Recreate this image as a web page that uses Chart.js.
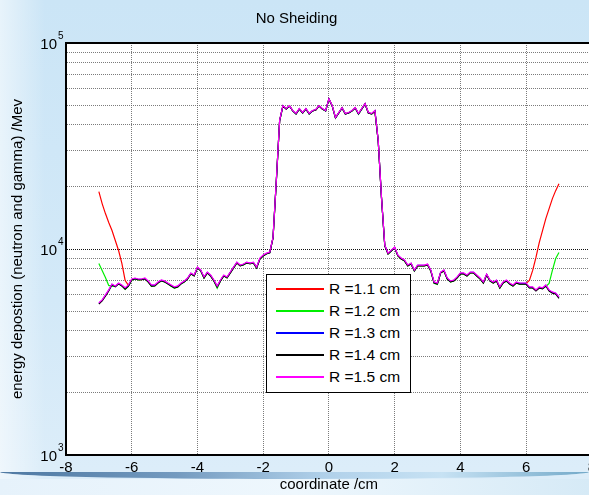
<!DOCTYPE html>
<html>
<head>
<meta charset="utf-8">
<script src="https://cdn.jsdelivr.net/npm/chart.js@4.4.1/dist/chart.umd.min.js"></script>
<style>
  html, body { margin:0; padding:0; width:589px; height:495px; overflow:hidden; }
  body {
    position:relative;
    background:
      linear-gradient(to right, rgba(255,255,255,0.55) 0px, rgba(255,255,255,0) 45px),
      linear-gradient(to bottom, #cbe5f6 0px, #d3e9f8 300px, #dcedf9 470px);
    font-family: "Liberation Sans", Arial, Helvetica, sans-serif;
  }
  #swoosh {
    position:absolute; left:0; top:472px; width:589px; height:7px;
    background: linear-gradient(to right, rgba(40,90,140,0.8) 0%, rgba(60,110,160,0.65) 30%, rgba(110,165,210,0.4) 55%, rgba(150,200,230,0.3) 75%, rgba(70,140,180,0.7) 100%);
    border-radius: 0 0 50% 50% / 0 0 100% 100%;
  }
  #lower { position:absolute; left:0; top:479px; width:589px; height:16px; background: linear-gradient(to right, #e6f2fb, #eef7fd 50%, #d6eaf6); }
  #wrap { position:absolute; left:0; top:0; width:600px; height:495px; }
  #legend {
    position:absolute; left:266px; top:274px; width:145px; height:119px; box-sizing:border-box;
    border:1.5px solid #000; background:#fff; font-size:15.5px; color:#000;
  }
  .row { position:absolute; left:0; height:20px; line-height:20px; width:140px; }
  .row .ln { position:absolute; left:9px; top:9px; width:48px; height:2px; }
  .row .tx { position:absolute; left:62px; top:0; white-space:nowrap; }
</style>
</head>
<body>
<div id="swoosh"></div>
<div id="lower"></div>
<div id="wrap"><canvas id="c" width="600" height="495"></canvas></div>
<div id="legend"></div>
<script>
// ---- data ----
const xs = [-7.0,-6.9,-6.8,-6.7,-6.6,-6.5,-6.4,-6.3,-6.2,-6.1,
  -6.0,-5.9,-5.8,-5.7,-5.6,-5.5,-5.4,-5.3,-5.2,-5.1,
  -5.0,-4.9,-4.8,-4.7,-4.6,-4.5,-4.4,-4.3,-4.2,-4.1,
  -4.0,-3.9,-3.8,-3.7,-3.6,-3.5,-3.4,-3.3,-3.2,-3.1,
  -3.0,-2.9,-2.8,-2.7,-2.6,-2.5,-2.4,-2.3,-2.2,-2.1,
  -2.0,-1.9,-1.8,-1.7,-1.6,-1.5,-1.4,-1.3,-1.2,-1.1,
  -1.0,-0.9,-0.8,-0.7,-0.6,-0.5,-0.4,-0.3,-0.2,-0.1,
  0.0,0.1,0.2,0.3,0.4,0.5,0.6,0.7,0.8,0.9,
  1.0,1.1,1.2,1.3,1.4,1.5,1.6,1.7,1.8,1.9,
  2.0,2.1,2.2,2.3,2.4,2.5,2.6,2.7,2.8,2.9,
  3.0,3.1,3.2,3.3,3.4,3.5,3.6,3.7,3.8,3.9,
  4.0,4.1,4.2,4.3,4.4,4.5,4.6,4.7,4.8,4.9,
  5.0,5.1,5.2,5.3,5.4,5.5,5.6,5.7,5.8,5.9,
  6.0,6.1,6.2,6.3,6.4,6.5,6.6,6.7,6.8,6.9,
  7.0];

const r11 = [18990,16610,14860,13440,12290,11000,9830,8510,7035,6655,
  7100,7180,7100,7100,7180,6940,6640,6640,6860,7020,
  6940,6790,6640,6490,6560,6790,6940,7180,7590,7420,
  8120,7850,7260,7680,7420,7020,6560,7020,7420,7260,
  7680,8120,8580,8300,8400,8580,8490,8580,8120,8970,
  9280,9490,9600,11350,21420,41850,49500,47870,49500,46820,
  45280,47870,45780,47870,45280,46820,47340,49500,47870,46820,
  53520,49500,43300,45780,48400,45280,45780,46820,48400,45280,
  47870,50620,45780,45280,46200,33500,17740,10380,9490,9810,
  10150,9280,8970,8780,8300,8490,7850,8300,8300,8300,
  8400,7850,6860,6790,7680,7850,7180,6940,7020,7260,
  7590,7590,7420,7680,7680,7420,7180,6860,7510,7020,
  6860,7020,6490,6860,7020,6790,6640,6860,6790,6790,
  6805,7035,7870,9100,10750,12290,14050,15710,17560,19200,
  20760];

const r12 = [8510,7870,7280,6655,6580,6600,6780,6620,6370,6600,
  7060,7160,7080,7090,7160,6920,6590,6610,6840,7000,
  6920,6770,6600,6440,6540,6770,6920,7160,7570,7400,
  8090,7830,7230,7650,7390,6990,6440,6990,7400,7240,
  7650,8090,8550,8280,8370,8560,8470,8560,8090,8940,
  9250,9470,9580,11320,21380,41800,49450,47800,49450,46780,
  45220,47820,45720,47820,45220,46780,47300,49450,47820,46780,
  53450,49450,43250,45720,48350,45220,45720,46780,48350,45100,
  47820,50560,45720,45220,46780,33450,17700,10350,9460,9780,
  10120,9250,8940,8750,8270,8460,7820,8270,8270,8270,
  8370,7820,6820,6730,7650,7820,7150,6910,6990,7230,
  7560,7560,7390,7650,7650,7390,7150,6830,7480,6990,
  6830,6990,6460,6830,6990,6750,6610,6830,6750,6750,
  6750,6480,6480,6320,6460,6420,6580,6805,7870,8995,
  9620];

const r13 = [5445,5630,5955,6295,6730,6580,6805,6655,6440,6655,
  7115,7195,7115,7115,7195,6960,6655,6655,6880,7035,
  6960,6805,6655,6510,6580,6805,6960,7195,7610,7440,
  8140,7870,7280,7695,7440,7035,6580,7035,7440,7280,
  7695,8140,8600,8320,8415,8600,8510,8600,8140,8995,
  9300,9510,9620,11370,21460,41910,49540,47910,49540,46850,
  45310,47910,45810,47910,45310,46850,47370,49540,47910,46850,
  53560,49540,43330,45810,48440,45310,45810,46850,48440,45310,
  47910,50660,45810,45310,46850,33530,17760,10400,9510,9830,
  10170,9300,8995,8800,8320,8510,7870,8320,8320,8320,
  8415,7870,6880,6805,7695,7870,7195,6960,7035,7280,
  7610,7610,7440,7695,7695,7440,7195,6880,7525,7035,
  6880,7035,6510,6880,7035,6805,6655,6880,6805,6805,
  6805,6510,6510,6295,6510,6440,6655,6295,6155,6090,
  5820];

const r14 = [5400,5600,5900,6250,6700,6550,6780,6620,6380,6600,
  7080,7170,7090,7100,7170,6930,6600,6620,6850,7010,
  6930,6780,6620,6470,6550,6780,6930,7170,7580,7410,
  8100,7840,7240,7660,7400,7000,6540,7000,7410,7250,
  7660,8100,8560,8290,8380,8570,8480,8570,8100,8950,
  9260,9480,9590,11330,21400,41850,49480,47850,49480,46800,
  45250,47850,45750,47850,45250,46800,47320,49480,47850,46800,
  53500,49480,43280,45750,48380,45250,45750,46800,48380,45250,
  47850,50600,45750,45250,46800,33470,17720,10360,9470,9790,
  10130,9260,8950,8760,8280,8470,7830,8280,8280,8280,
  8380,7830,6840,6760,7660,7830,7160,6920,7000,7240,
  7570,7570,7400,7660,7660,7400,7160,6840,7490,7000,
  6840,7000,6470,6840,7000,6760,6620,6840,6760,6760,
  6760,6470,6470,6250,6470,6400,6620,6250,6110,6050,
  5760];

const r15 = [5480,5660,5990,6330,6760,6620,6840,6690,6480,6690,
  7150,7230,7150,7150,7230,7000,6690,6690,6920,7070,
  7000,6840,6690,6550,6620,6840,7000,7230,7650,7480,
  8180,7910,7320,7730,7480,7070,6620,7070,7480,7320,
  7730,8180,8640,8360,8450,8640,8550,8640,8180,9040,
  9340,9550,9660,11420,21550,42100,49700,48100,49700,47000,
  45500,48100,46000,48100,45500,47000,47550,49700,48100,47000,
  53700,49700,43500,46000,48600,45500,46000,47000,48600,45500,
  48100,50800,46000,45500,47000,33700,17850,10450,9550,9870,
  10210,9340,9040,8840,8360,8550,7910,8360,8360,8360,
  8450,7910,6920,6840,7730,7910,7230,7000,7070,7320,
  7650,7650,7480,7730,7730,7480,7230,6920,7560,7070,
  6920,7070,6550,6920,7070,6840,6690,6920,6840,6840,
  6840,6550,6550,6330,6550,6480,6690,6330,6190,6120,
  5850];

const seriesNames = ['R =1.1 cm','R =1.2 cm','R =1.3 cm','R =1.4 cm','R =1.5 cm'];
const seriesColors = ['#ff0000','#00ee00','#0000ff','#000000','#ff00ff'];
const seriesValues = [r11, r12, r13, r14, r15];

const yTickValues = [1000,2000,3000,4000,5000,6000,7000,8000,9000,
  10000,20000,30000,40000,50000,60000,70000,80000,90000,100000];
const yDecades = [1000, 10000, 100000];
const yExponents = ['3', '4', '5'];

const titleText = 'No Sheiding';
const xTitle = 'coordinate /cm';
const yTitle = 'energy depostion (neutron and gamma) /Mev';

// ---- chart ----
const FONT = '"Liberation Sans", Arial, Helvetica, sans-serif';
Chart.defaults.font.family = FONT;
Chart.defaults.color = '#000';

const whiteArea = {
  id:'whiteArea',
  beforeDraw(chart){
    const {ctx, chartArea:a} = chart;
    ctx.save(); ctx.fillStyle='#fff';
    ctx.fillRect(a.left, a.top, a.right-a.left, a.bottom-a.top);
    ctx.restore();
  }
};

// y decade labels as base 10 with superscript exponent
const powerLabels = {
  id:'powerLabels',
  afterDraw(chart){
    const {ctx} = chart;
    const ys = chart.scales.y;
    ctx.save();
    ctx.fillStyle = '#000';
    ctx.textBaseline = 'middle';
    yDecades.forEach((v, i) => {
      const py = ys.getPixelForValue(v);
      const right = ys.right - 9;
      ctx.font = '15px ' + FONT;
      ctx.textAlign = 'right';
      ctx.fillText('10', right, py + 2);
      ctx.font = '10px ' + FONT;
      ctx.textAlign = 'left';
      ctx.fillText(yExponents[i], right + 1, py - 7);
    });
    ctx.restore();
  }
};

const datasets = seriesValues.map((vals, i) => ({
  label: seriesNames[i],
  data: xs.map((x, j) => ({x: x, y: vals[j]})),
  borderColor: seriesColors[i],
  backgroundColor: seriesColors[i],
  borderWidth: 1.2,
  pointRadius: 0,
  tension: 0,
  fill: false,
  order: 5 - i
}));

new Chart(document.getElementById('c'), {
  type: 'line',
  data: { datasets },
  plugins: [whiteArea, powerLabels],
  options: {
    responsive: false,
    devicePixelRatio: 1,
    animation: false,
    events: [],
    layout: { padding: { left:0, right:7, top:0, bottom:0 } },
    plugins: {
      legend: { display:false },
      tooltip: { enabled:false },
      title: { display:true, text:titleText, color:'#000',
        font:{ size:15, weight:'normal', family:FONT }, padding:{ top:10, bottom:15 } }
    },
    scales: {
      x: {
        type:'linear', min:-8, max:8,
        ticks:{ stepSize:2, font:{size:15}, color:'#000', padding:4, maxRotation:0 },
        grid:{ color:'rgba(90,90,90,0.8)', lineWidth:1, drawTicks:false },
        border:{ display:true, color:'#000', width:2, dash:[1,1] },
        title:{ display:true, text:xTitle, font:{size:15}, color:'#000', padding:{top:0, bottom:1} },
        afterFit(s){ s.height = 40; }
      },
      xTop: {
        type:'linear', position:'top', min:-8, max:8,
        ticks:{ display:false },
        grid:{ display:false, drawTicks:false },
        border:{ display:true, color:'#000', width:2 },
        afterFit(s){ s.height = 0; }
      },
      y: {
        type:'logarithmic', min:1000, max:100000,
        afterBuildTicks(s){ s.ticks = yTickValues.map(v => ({value:v})); },
        ticks:{ autoSkip:false, font:{size:15}, color:'#000', padding:5,
          callback(){ return ''; } },
        grid:{ drawTicks:false,
          color(ctx){ const v = ctx.tick && ctx.tick.value; return yDecades.includes(v) ? '#111' : 'rgba(90,90,90,0.8)'; },
          lineWidth:1 },
        border:{ display:true, color:'#000', width:2, dash:[1,1] },
        title:{ display:true, text:yTitle, font:{size:15}, color:'#000', padding:{top:9, bottom:0} },
        afterFit(s){ s.width = 66; }
      }
    }
  }
});

// ---- legend ----
const lg = document.getElementById('legend');
seriesNames.forEach((n, i) => {
  const row = document.createElement('div');
  row.className = 'row';
  row.style.top = (4 + i*22) + 'px';
  const ln = document.createElement('div'); ln.className='ln'; ln.style.backgroundColor = seriesColors[i];
  const tx = document.createElement('div'); tx.className='tx'; tx.textContent = n;
  row.appendChild(ln); row.appendChild(tx); lg.appendChild(row);
});
</script>
</body>
</html>
